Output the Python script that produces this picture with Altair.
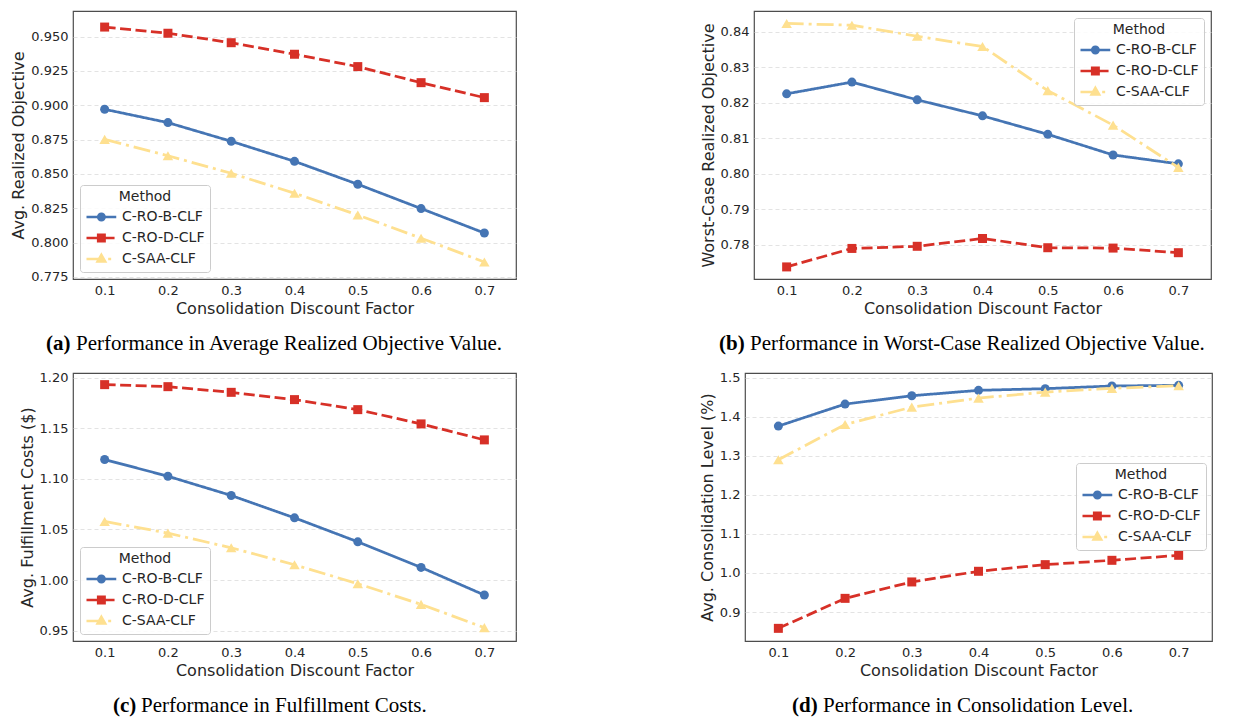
import altair as alt
import pandas as pd

# ---------------- data ----------------
methods = ["C-RO-B-CLF", "C-RO-D-CLF", "C-SAA-CLF"]
x_values = [0.1, 0.2, 0.3, 0.4, 0.5, 0.6, 0.7]

a_rob = [0.8971, 0.8874, 0.8738, 0.8592, 0.8425, 0.8248, 0.8070]
a_rod = [0.9570, 0.9525, 0.9456, 0.9372, 0.9282, 0.9165, 0.9056]
a_saa = [0.8752, 0.8633, 0.8505, 0.8360, 0.8201, 0.8032, 0.7859]

b_rob = [0.8225, 0.8258, 0.8208, 0.8163, 0.8111, 0.8053, 0.8028]
b_rod = [0.7738, 0.7790, 0.7796, 0.7818, 0.7792, 0.7791, 0.7778]
b_saa = [0.8423, 0.8418, 0.8387, 0.8358, 0.8234, 0.8137, 0.8018]

c_rob = [1.1191, 1.1026, 1.0836, 1.0615, 1.0378, 1.0125, 0.9852]
c_rod = [1.1931, 1.1911, 1.1855, 1.1783, 1.1684, 1.1543, 1.1385]
c_saa = [1.0579, 1.0464, 1.0319, 1.0151, 0.9964, 0.9760, 0.9530]

d_rob = [1.3761, 1.4324, 1.4538, 1.4676, 1.4719, 1.4787, 1.4804]
d_rod = [0.8582, 0.9350, 0.9770, 1.0043, 1.0213, 1.0324, 1.0452]
d_saa = [1.2898, 1.3801, 1.4247, 1.4477, 1.4631, 1.4727, 1.4795]

x_title = "Consolidation Discount Factor"
y_titles = ["Avg. Realized Objective", "Worst-Case Realized Objective",
            "Avg. Fulfillment Costs ($)", "Avg. Consolidation Level (%)"]
x_ticks = [0.1, 0.2, 0.3, 0.4, 0.5, 0.6, 0.7]
y_ticks_a = [0.775, 0.800, 0.825, 0.850, 0.875, 0.900, 0.925, 0.950]
y_ticks_b = [0.78, 0.79, 0.80, 0.81, 0.82, 0.83, 0.84]
y_ticks_c = [0.95, 1.00, 1.05, 1.10, 1.15, 1.20]
y_ticks_d = [0.9, 1.0, 1.1, 1.2, 1.3, 1.4, 1.5]
caption_labels = ["(a)", "(b)", "(c)", "(d)"]
caption_texts = ["Performance in Average Realized Objective Value.",
                 "Performance in Worst-Case Realized Objective Value.",
                 "Performance in Fulfillment Costs.",
                 "Performance in Consolidation Level."]

# ---------------- style ----------------
colors = ["#4575b4", "#d73027", "#fee090"]
dashes = [[1, 0], [11, 4.5], [17, 5, 3, 5]]
shapes = ["circle", "square", "triangle-up"]
sizes = [81, 81, 110]
legend_paths = [
    "M-1,0H2.5M1.13,0A0.38,0.38,0,1,1,0.37,0A0.38,0.38,0,1,1,1.13,0Z",
    "M-1,0H0.3M1.2,0H2.3M0.37,-0.38H1.13V0.38H0.37Z",
    "M-1,0H0.9M1.55,0H1.9M0.75,-0.5L1.2,0.3L0.3,0.3Z",
]
FONT = "DejaVu Sans"
TXT = "#262626"


def long_table(rob, rod, saa):
    rows = []
    for m, vals in zip(methods, [rob, rod, saa]):
        for xv, yv in zip(x_values, vals):
            rows.append({"x": xv, "Method": m, "value": yv})
    return pd.DataFrame(rows)


def panel(df, ytitle, yticks, ydom, yfmt, width, height, legend_pos,
          cap_label, cap_text, cap_x, cap_gap):
    xenc = alt.X("x:Q",
                 scale=alt.Scale(domain=[0.05, 0.75], nice=False, zero=False),
                 axis=alt.Axis(values=x_ticks, format=".1f", title=x_title,
                               grid=False, ticks=False, domain=False,
                               labelFlush=False, labelPadding=5, titlePadding=3))
    yenc = alt.Y("value:Q",
                 scale=alt.Scale(domain=ydom, nice=False, zero=False),
                 axis=alt.Axis(values=yticks, format=yfmt, title=ytitle,
                               grid=True, gridDash=[4, 3], gridColor="#dcdcdc",
                               gridWidth=0.8, ticks=False, domain=False,
                               labelPadding=5, titlePadding=4))
    base = alt.Chart(df)
    series_layers = []
    for m, c, dsh, s, sz in zip(methods, colors, dashes, shapes, sizes):
        sub = base.transform_filter(alt.datum.Method == m)
        series_layers.append(
            sub.mark_line(strokeWidth=2.75, color=c, strokeDash=dsh).encode(x=xenc, y=yenc))
        series_layers.append(
            sub.mark_point(filled=True, opacity=1, shape=s, size=sz, color=c).encode(x=xenc, y=yenc))
    leg_kwargs = dict(title="Method", padding=5, strokeColor="#cccccc",
                      fillColor="rgba(255,255,255,0.85)", cornerRadius=3,
                      titleFont=FONT, titleFontSize=14, titleFontWeight="normal",
                      titleColor=TXT, titleAnchor="middle", titlePadding=3,
                      labelFont=FONT, labelFontSize=14, labelColor=TXT,
                      labelOffset=17, symbolSize=289, symbolStrokeWidth=2.5,
                      rowPadding=2)
    leg_kwargs.update(legend_pos)
    leg = alt.Legend(**leg_kwargs)
    legend_layer = base.transform_filter("false").mark_point(filled=True, opacity=1).encode(
        x=xenc, y=yenc,
        fill=alt.Fill("Method:N", scale=alt.Scale(domain=methods, range=colors), legend=leg),
        stroke=alt.Stroke("Method:N", scale=alt.Scale(domain=methods, range=colors), legend=leg),
        shape=alt.Shape("Method:N", scale=alt.Scale(domain=methods, range=legend_paths), legend=leg),
    )
    cap_b = alt.Chart(pd.DataFrame({"t": [cap_label]})).mark_text(
        font="Liberation Serif", fontSize=21, fontWeight="bold", align="left",
        baseline="alphabetic", color="black").encode(
        x=alt.value(cap_x), y=alt.value(height + 71), text="t:N")
    cap_n = alt.Chart(pd.DataFrame({"t": [cap_text]})).mark_text(
        font="Liberation Serif", fontSize=21, align="left",
        baseline="alphabetic", color="black").encode(
        x=alt.value(cap_x + cap_gap), y=alt.value(height + 71), text="t:N")
    return alt.layer(*series_layers, legend_layer, cap_b, cap_n).properties(
        width=width, height=height)


H = 268
pa = panel(long_table(a_rob, a_rod, a_saa), y_titles[0], y_ticks_a, [0.7735, 0.9687], ".3f",
           443, H, dict(orient="bottom-left", offset=7), caption_labels[0], caption_texts[0], -27, 30)
pb = panel(long_table(b_rob, b_rod, b_saa), y_titles[1], y_ticks_b, [0.7704, 0.8458], ".2f",
           457, H, dict(orient="top-right", offset=7), caption_labels[1], caption_texts[1], -35, 31)
pc = panel(long_table(c_rob, c_rod, c_saa), y_titles[2], y_ticks_c, [0.9398, 1.2046], ".2f",
           443, H, dict(orient="bottom-left", offset=7), caption_labels[2], caption_texts[2], 40, 28)
pd_ = panel(long_table(d_rob, d_rod, d_saa), y_titles[3], y_ticks_d, [0.8258, 1.512], ".1f",
            467, H, dict(orient="none", legendX=331, legendY=90), caption_labels[3], caption_texts[3], 47, 31)

ind = dict(fill="independent", stroke="independent", shape="independent")
row1 = alt.hconcat(pa, pb, spacing=182).resolve_scale(**ind)
row2 = alt.hconcat(pc, pd_, spacing=181).resolve_scale(**ind)
chart = alt.concat(row1, row2, columns=1, align="none", spacing=16).resolve_scale(**ind).properties(
    padding={"left": 2, "top": 2, "right": 2, "bottom": 0},
    background="white",
).configure_view(stroke="#4d4d4d", strokeWidth=1.2).configure_axis(
    labelFont=FONT, labelFontSize=13, labelColor=TXT,
    titleFont=FONT, titleFontSize=16, titleColor=TXT, titleFontWeight="normal"
)

chart.save("out.html", embed_options={"renderer": "svg", "actions": False})
